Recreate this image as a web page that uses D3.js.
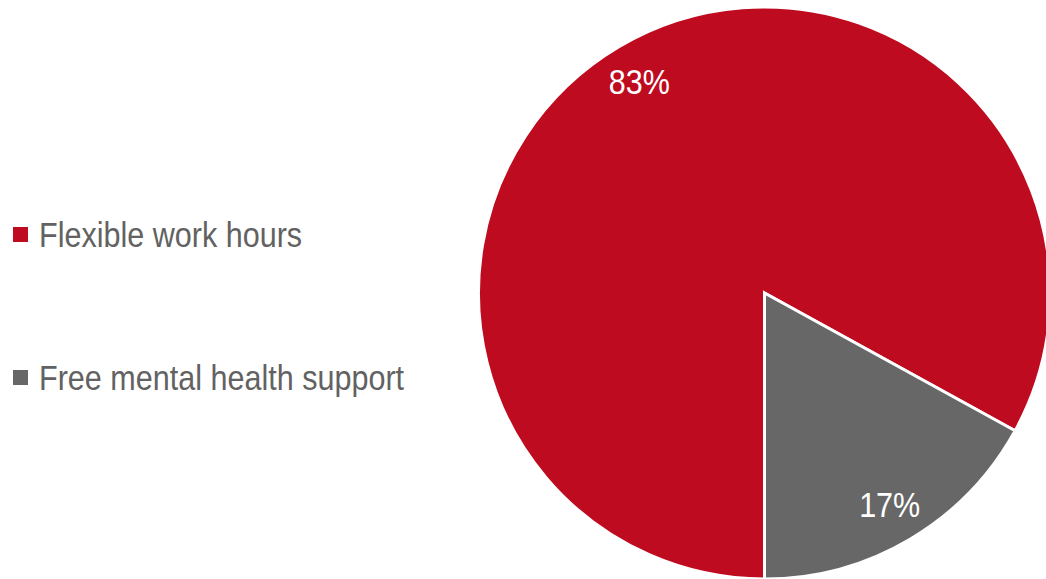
<!DOCTYPE html>
<html><head><meta charset="utf-8">
<script src="https://cdn.jsdelivr.net/npm/d3@7"></script>
<style>html,body{margin:0;padding:0;background:#fff;overflow:hidden}</style>
</head><body>
<svg id="chart" width="1046" height="579"></svg>
<script>
const categories = ["Flexible work hours", "Free mental health support"];
const values = [83, 17];
const labels = ["83%", "17%"];
const colors = ["#BE0B1F", "#676767"];

const svg = d3.select("#chart");
const font = "'Liberation Sans Narrow','Arial Narrow','Liberation Sans',Arial,sans-serif";
const narrow = 0.873;
const cx = 764.5, cy = 293, r = 286;

const pie = d3.pie().sort(null).value(d => d).startAngle(Math.PI).endAngle(3 * Math.PI);
const arcs = pie(values);
const arc = d3.arc().innerRadius(0).outerRadius(r);
const labelArc = d3.arc().innerRadius(r * 0.86).outerRadius(r * 0.86);

const g = svg.append("g").attr("transform", `translate(${cx},${cy})`);
g.selectAll("path").data(arcs).join("path")
  .attr("d", arc)
  .attr("fill", (d, i) => colors[i])
  .attr("stroke", "#fff")
  .attr("stroke-width", 3)
  .attr("stroke-linejoin", "miter");

g.selectAll("text").data(arcs).join("text")
  .attr("transform", d => `translate(${labelArc.centroid(d)}) scale(${narrow},1)`)
  .attr("text-anchor", "middle")
  .attr("dy", "0.36em")
  .attr("fill", "#fff")
  .style("font-family", font)
  .style("font-size", "35px")
  .text((d, i) => labels[i]);

const legendY = d3.scalePoint().domain(categories).range([234, 377]);
const lg = svg.append("g");
const items = lg.selectAll("g").data(categories).join("g")
  .attr("transform", d => `translate(0,${legendY(d)})`);
items.append("rect").attr("x", 13).attr("y", -7).attr("width", 15).attr("height", 15)
  .attr("fill", (d, i) => colors[i]);
items.append("text")
  .attr("transform", `translate(39,0) scale(${narrow},1)`)
  .attr("dy", "0.36em")
  .attr("fill", "#626262")
  .style("font-family", font)
  .style("font-size", "35px")
  .text(d => d);
</script>
</body></html>
